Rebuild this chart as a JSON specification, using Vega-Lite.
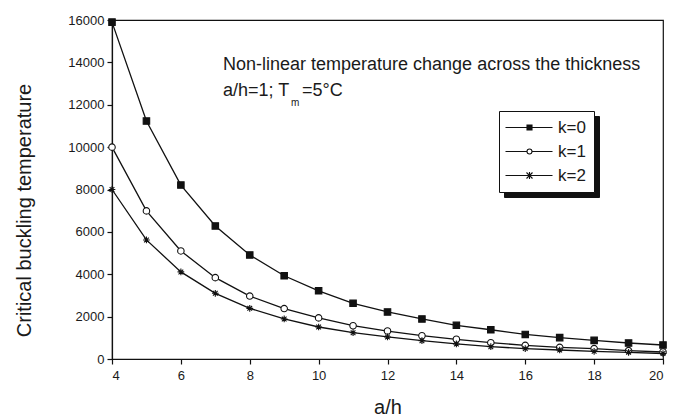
{
  "$schema": "https://vega.github.io/schema/vega-lite/v6.json",
  "width": 551,
  "height": 339,
  "autosize": {"type": "none"},
  "padding": {"left": 112, "top": 20, "right": 15, "bottom": 58},
  "background": "white",
  "config": {
    "font": "Liberation Sans",
    "view": {"stroke": "#111", "strokeWidth": 1.2},
    "axis": {
      "domainColor": "#111",
      "domainWidth": 1.2,
      "tickColor": "#111",
      "tickWidth": 1.2,
      "labelColor": "#1a1a1a",
      "labelFontSize": 13,
      "titleColor": "#1a1a1a",
      "titleFontWeight": "normal",
      "grid": false
    }
  },
  "datasets": {
    "curves": [
      {"ah": 4, "k": "k=0", "T": 15900}, {"ah": 5, "k": "k=0", "T": 11230}, {"ah": 6, "k": "k=0", "T": 8210},
      {"ah": 7, "k": "k=0", "T": 6280}, {"ah": 8, "k": "k=0", "T": 4910}, {"ah": 9, "k": "k=0", "T": 3930},
      {"ah": 10, "k": "k=0", "T": 3220}, {"ah": 11, "k": "k=0", "T": 2630}, {"ah": 12, "k": "k=0", "T": 2220},
      {"ah": 13, "k": "k=0", "T": 1890}, {"ah": 14, "k": "k=0", "T": 1590}, {"ah": 15, "k": "k=0", "T": 1380},
      {"ah": 16, "k": "k=0", "T": 1160}, {"ah": 17, "k": "k=0", "T": 1010}, {"ah": 18, "k": "k=0", "T": 880},
      {"ah": 19, "k": "k=0", "T": 755}, {"ah": 20, "k": "k=0", "T": 660},
      {"ah": 4, "k": "k=1", "T": 10000}, {"ah": 5, "k": "k=1", "T": 6990}, {"ah": 6, "k": "k=1", "T": 5100},
      {"ah": 7, "k": "k=1", "T": 3840}, {"ah": 8, "k": "k=1", "T": 2970}, {"ah": 9, "k": "k=1", "T": 2380},
      {"ah": 10, "k": "k=1", "T": 1940}, {"ah": 11, "k": "k=1", "T": 1570}, {"ah": 12, "k": "k=1", "T": 1320},
      {"ah": 13, "k": "k=1", "T": 1100}, {"ah": 14, "k": "k=1", "T": 930}, {"ah": 15, "k": "k=1", "T": 770},
      {"ah": 16, "k": "k=1", "T": 645}, {"ah": 17, "k": "k=1", "T": 550}, {"ah": 18, "k": "k=1", "T": 490},
      {"ah": 19, "k": "k=1", "T": 395}, {"ah": 20, "k": "k=1", "T": 330},
      {"ah": 4, "k": "k=2", "T": 8000}, {"ah": 5, "k": "k=2", "T": 5620}, {"ah": 6, "k": "k=2", "T": 4110},
      {"ah": 7, "k": "k=2", "T": 3100}, {"ah": 8, "k": "k=2", "T": 2390}, {"ah": 9, "k": "k=2", "T": 1890},
      {"ah": 10, "k": "k=2", "T": 1510}, {"ah": 11, "k": "k=2", "T": 1240}, {"ah": 12, "k": "k=2", "T": 1040},
      {"ah": 13, "k": "k=2", "T": 865}, {"ah": 14, "k": "k=2", "T": 710}, {"ah": 15, "k": "k=2", "T": 580},
      {"ah": 16, "k": "k=2", "T": 490}, {"ah": 17, "k": "k=2", "T": 425}, {"ah": 18, "k": "k=2", "T": 360},
      {"ah": 19, "k": "k=2", "T": 315}, {"ah": 20, "k": "k=2", "T": 260}
    ],
    "notes": [
      {"t": "Non-linear temperature change across the thickness"}
    ]
  },
  "layer": [
    {
      "data": {"name": "curves"},
      "mark": {"type": "point", "opacity": 0},
      "encoding": {
        "x": {"field": "ah", "type": "quantitative"},
        "y": {"field": "T", "type": "quantitative"},
        "fill": {
          "field": "k",
          "type": "nominal",
          "scale": {"domain": ["k=0", "k=1", "k=2"], "range": ["#111", "#111", "#111"]},
          "legend": {
            "title": null,
            "orient": "none",
            "legendX": 392,
            "legendY": 96,
            "padding": 8,
            "strokeColor": "#111",
            "fillColor": "#111",
            "symbolSize": 100,
            "labelFontSize": 17,
            "labelColor": "#111",
            "labelExpr": "''",
            "labelOffset": 62,
            "rowPadding": 6,
            "encode": {
              "symbols": {
                "update": {
                  "shape": {"value": "M-1,0L1,0"},
                  "fill": {"value": "#111"},
                  "stroke": {"value": "#111"},
                  "opacity": {"value": 1}
                }
              }
            }
          }
        }
      }
    },
    {
      "data": {"name": "curves"},
      "mark": {"type": "line", "strokeWidth": 1.3},
      "encoding": {
        "x": {
          "field": "ah",
          "type": "quantitative",
          "scale": {"domain": [4, 20], "nice": false, "zero": false},
          "axis": {
            "title": "a/h",
            "titleFontSize": 20,
            "titlePadding": 15,
            "values": [4, 5, 6, 7, 8, 9, 10, 11, 12, 13, 14, 15, 16, 17, 18, 19, 20],
            "format": "d",
            "labelExpr": "datum.value % 2 === 0 ? datum.label : ''",
            "tickSize": {"expr": "datum.value % 2 === 0 ? 5 : 3"},
            "labelPadding": 5
          }
        },
        "y": {
          "field": "T",
          "type": "quantitative",
          "scale": {"domain": [0, 16000], "nice": false},
          "axis": {
            "title": "Critical buckling temperature",
            "titleFontSize": 20,
            "titleX": -78,
            "titleY": 190,
            "titleBaseline": "bottom",
            "values": [0, 1000, 2000, 3000, 4000, 5000, 6000, 7000, 8000, 9000, 10000, 11000, 12000, 13000, 14000, 15000, 16000],
            "format": "d",
            "labelExpr": "datum.value % 2000 === 0 ? datum.label : ''",
            "tickSize": {"expr": "datum.value % 2000 === 0 ? 5 : 3"},
            "labelPadding": 3
          }
        },
        "stroke": {
          "field": "k",
          "type": "nominal",
          "scale": {"range": ["#111", "#111", "#111"]},
          "legend": {
            "title": null,
            "orient": "none",
            "legendX": 387,
            "legendY": 91,
            "padding": 8,
            "strokeColor": "#111",
            "fillColor": "white",
            "symbolSize": 100,
            "labelFontSize": 17,
            "labelColor": "#1a1a1a",
            "labelOffset": 34,
            "rowPadding": 6,
            "encode": {
              "symbols": {
                "update": {
                  "shape": {"signal": "datum.value === 'k=0' ? 'M-2,0L2.3,0M3.3,0L7.4,0M2.3,-0.5L3.3,-0.5L3.3,0.5L2.3,0.5Z' : datum.value === 'k=1' ? 'M-2,0L2.3,0M3.3,0L7.4,0M2.3,0A0.5,0.5,0,1,0,3.3,0A0.5,0.5,0,1,0,2.3,0Z' : 'M-2,0L7.4,0M2.2,-0.6L3.4,0.6M2.2,0.6L3.4,-0.6M2.8,-0.7L2.8,0.7'"},
                  "fill": {"signal": "datum.value === 'k=0' ? '#111' : 'white'"},
                  "stroke": {"value": "#111"},
                  "strokeWidth": {"value": 1.1},
                  "opacity": {"value": 1}
                }
              }
            }
          }
        }
      }
    },
    {
      "data": {"name": "curves"},
      "transform": [{"filter": "datum.k === 'k=0'"}],
      "mark": {"type": "point", "shape": "square", "filled": true, "fill": "#111", "stroke": "#111", "strokeWidth": 1.1, "size": 42, "opacity": 1},
      "encoding": {
        "x": {"field": "ah", "type": "quantitative"},
        "y": {"field": "T", "type": "quantitative"}
      }
    },
    {
      "data": {"name": "curves"},
      "transform": [{"filter": "datum.k === 'k=1'"}],
      "mark": {"type": "point", "shape": "circle", "filled": true, "fill": "white", "stroke": "#111", "strokeWidth": 1.1, "size": 42, "opacity": 1},
      "encoding": {
        "x": {"field": "ah", "type": "quantitative"},
        "y": {"field": "T", "type": "quantitative"}
      }
    },
    {
      "data": {"name": "curves"},
      "transform": [{"filter": "datum.k === 'k=2'"}],
      "mark": {"type": "point", "shape": "M-1,0L1,0M0,-1L0,1M-0.7,-0.7L0.7,0.7M-0.7,0.7L0.7,-0.7", "filled": false, "stroke": "#111", "strokeWidth": 1.1, "size": 45, "opacity": 1},
      "encoding": {
        "x": {"field": "ah", "type": "quantitative"},
        "y": {"field": "T", "type": "quantitative"}
      }
    },
    {
      "data": {"name": "notes"},
      "mark": {"type": "text", "align": "left", "baseline": "alphabetic", "fontSize": 18, "color": "#1a1a1a"},
      "encoding": {
        "x": {"datum": 7.223, "type": "quantitative"},
        "y": {"datum": 13640, "type": "quantitative"},
        "text": {"field": "t", "type": "nominal"}
      }
    },
    {
      "data": {"name": "notes"},
      "mark": {"type": "text", "align": "left", "baseline": "alphabetic", "fontSize": 18, "color": "#1a1a1a", "text": "a/h=1; T"},
      "encoding": {
        "x": {"datum": 7.223, "type": "quantitative"},
        "y": {"datum": 12413, "type": "quantitative"}
      }
    },
    {
      "data": {"name": "notes"},
      "mark": {"type": "text", "align": "left", "baseline": "alphabetic", "fontSize": 10, "color": "#1a1a1a", "text": "m"},
      "encoding": {
        "x": {"datum": 9.198, "type": "quantitative"},
        "y": {"datum": 11920, "type": "quantitative"}
      }
    },
    {
      "data": {"name": "notes"},
      "mark": {"type": "text", "align": "left", "baseline": "alphabetic", "fontSize": 18, "color": "#1a1a1a", "text": "=5°C"},
      "encoding": {
        "x": {"datum": 9.517, "type": "quantitative"},
        "y": {"datum": 12413, "type": "quantitative"}
      }
    }
  ]
}
